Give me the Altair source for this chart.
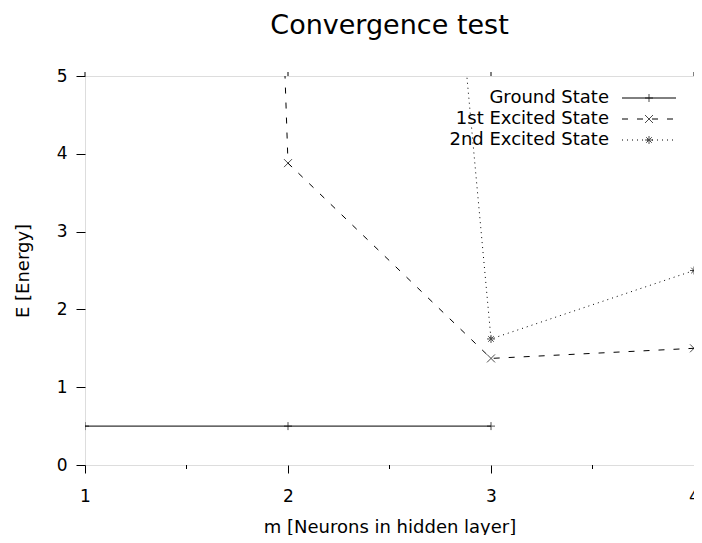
import altair as alt
import pandas as pd

# ---- data ----
series_names = ["Ground State", "1st Excited State", "2nd Excited State"]
m_ground = [1, 2, 3]
e_ground = [0.5, 0.5, 0.5]
m_first = [1, 2, 3, 4]
e_first = [80.0, 3.88, 1.37, 1.50]
m_second = [2, 3, 4]
e_second = [30.0, 1.62, 2.50]

x_ticks = [1, 2, 3, 4]
x_minor = [1.5, 2.5, 3.5]
y_ticks = [0, 1, 2, 3, 4, 5]

# ---- styles ----
FONT = "DejaVu Sans"
PLUS = "M-1,0L1,0M0,-1L0,1"
CROSS = "M-1,-1L1,1M-1,1L1,-1"
STAR = "M-1,0L1,0M0,-1L0,1M-0.7,-0.7L0.7,0.7M-0.7,0.7L0.7,-0.7"
DASH = [6, 9]
DOT = [1, 4]
W, H = 609, 389

xs = alt.Scale(domain=[1, 4], nice=False, zero=False)
ys = alt.Scale(domain=[0, 5], nice=False, zero=False)

x_axis = alt.Axis(values=x_ticks, format="d", tickSize=8, labelPadding=15,
                  domain=False, grid=False, labelFlush=False, labelOverlap=False,
                  title="m [Neurons in hidden layer]", titlePadding=14,
                  labelFont=FONT, titleFont=FONT, labelFontSize=17, titleFontSize=18,
                  titleFontWeight="normal", labelColor="black", titleColor="black",
                  tickColor="black")
y_axis = alt.Axis(values=y_ticks, format="d", tickSize=9, labelPadding=9,
                  domain=False, grid=False, title="E [Energy]", titlePadding=24,
                  labelFont=FONT, titleFont=FONT, labelFontSize=17, titleFontSize=18,
                  titleFontWeight="normal", labelColor="black", titleColor="black",
                  tickColor="black")


def series(ms, es, shape, dash=None):
    df = pd.DataFrame({"m": ms, "E": es})
    base = alt.Chart(df).encode(
        x=alt.X("m:Q", scale=xs, axis=x_axis),
        y=alt.Y("E:Q", scale=ys, axis=y_axis),
    )
    if dash:
        line = base.mark_line(clip=True, color="black", strokeWidth=1, strokeDash=dash)
    else:
        line = base.mark_line(clip=True, color="black", strokeWidth=1)
    pts = base.mark_point(clip=True, shape=shape, size=64, filled=False,
                          color="black", strokeWidth=1)
    return line, pts


g_line, g_pts = series(m_ground, e_ground, PLUS, None)
f_line, f_pts = series(m_first, e_first, CROSS, DASH)
s_line, s_pts = series(m_second, e_second, STAR, DOT)

# minor ticks on the bottom axis
minor = alt.Chart(pd.DataFrame({"m": x_minor})).mark_rule(
    color="black", strokeWidth=1).encode(
    x=alt.X("m:Q", scale=xs, axis=x_axis),
    y=alt.value(H), y2=alt.value(H + 4),
)
# mirrored ticks on the top border
top_ticks = alt.Chart(pd.DataFrame({"m": x_ticks})).mark_rule(
    color="black", strokeWidth=1).encode(
    x=alt.X("m:Q", scale=xs, axis=x_axis),
    y=alt.value(0), y2=alt.value(-4),
)
# mirrored ticks on the right border
right_ticks = alt.Chart(pd.DataFrame({"E": y_ticks})).mark_rule(
    color="black", strokeWidth=1).encode(
    y=alt.Y("E:Q", scale=ys, axis=y_axis),
    x=alt.value(W), x2=alt.value(W + 4),
)

# ---- gnuplot-style key (label, then sample) ----
legend_layers = []
styles = [(None, PLUS), (DASH, CROSS), (DOT, STAR)]
row_y = [22, 43, 64]
for name, (dash, shape), yy in zip(series_names, styles, row_y):
    d = pd.DataFrame({"label": [name]})
    legend_layers.append(
        alt.Chart(d).mark_text(align="right", baseline="middle", font=FONT,
                               fontSize=18, color="black").encode(
            text="label:N", x=alt.value(524), y=alt.value(yy)))
    if dash:
        rule = alt.Chart(d).mark_rule(color="black", strokeWidth=1, strokeDash=dash)
    else:
        rule = alt.Chart(d).mark_rule(color="black", strokeWidth=1)
    legend_layers.append(rule.encode(x=alt.value(537), x2=alt.value(591), y=alt.value(yy)))
    legend_layers.append(
        alt.Chart(d).mark_point(shape=shape, size=64, filled=False, color="black",
                                strokeWidth=1).encode(x=alt.value(564), y=alt.value(yy)))

chart = alt.layer(
    g_line, g_pts, f_line, f_pts, s_line, s_pts, minor, top_ticks, right_ticks,
    *legend_layers
).properties(
    width=W, height=H,
    title=alt.TitleParams("Convergence test", font=FONT, fontSize=27,
                          fontWeight="normal", anchor="middle", color="black",
                          offset=27),
    autosize=alt.AutoSizeParams(type="none"),
    padding={"left": 77, "top": 68, "right": 0, "bottom": 70},
).configure_view(stroke="black", strokeWidth=1).configure(background="white")

chart.save("out.html", embed_options={"renderer": "svg", "actions": False})
